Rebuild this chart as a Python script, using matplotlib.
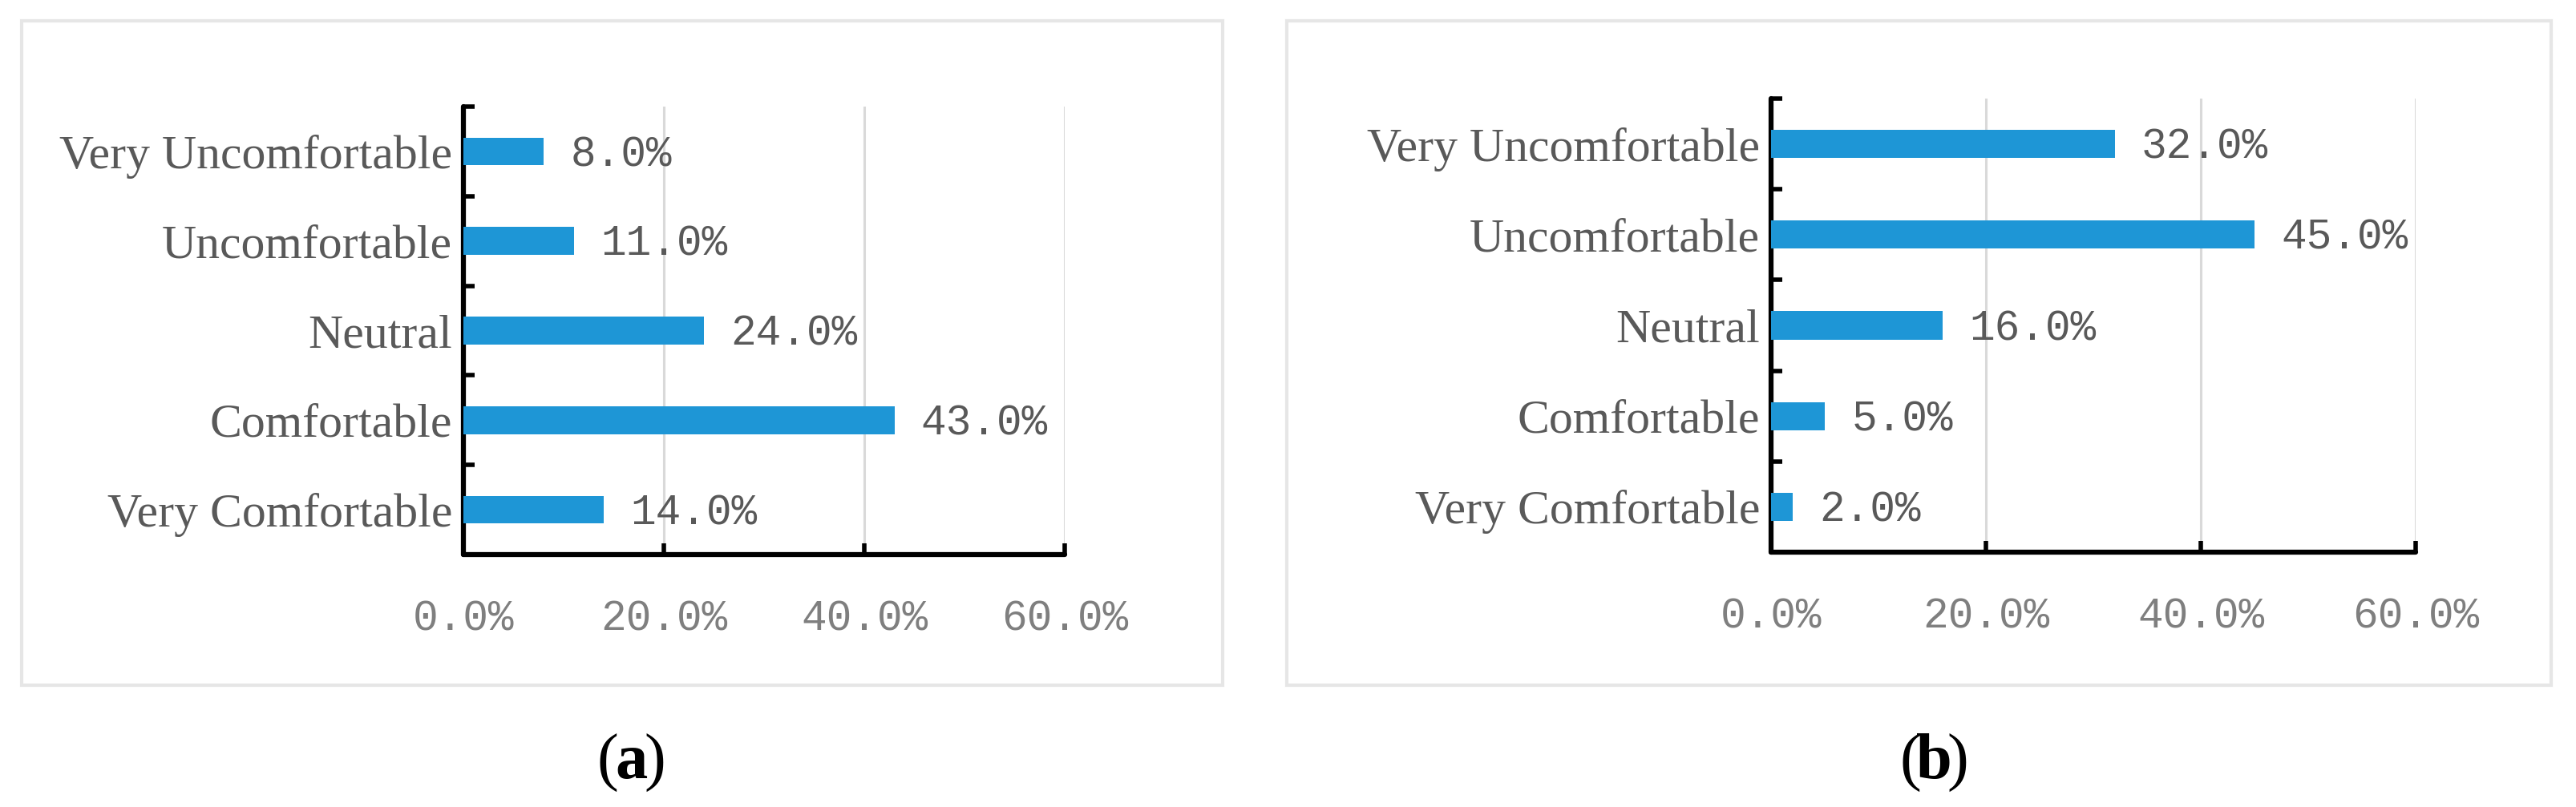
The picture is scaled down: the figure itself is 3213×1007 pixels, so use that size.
import matplotlib
matplotlib.use("Agg")
import matplotlib.pyplot as plt
from matplotlib.patches import Rectangle

categories = ["Very Comfortable", "Comfortable", "Neutral", "Uncomfortable", "Very Uncomfortable"]
values_a = [14.0, 43.0, 24.0, 11.0, 8.0]
values_b = [2.0, 5.0, 16.0, 45.0, 32.0]
xticks = [0, 20, 40, 60]
captions = ["a", "b"]

W, H = 3213, 1007
DPI = 100
fig = plt.figure(figsize=(W / DPI, H / DPI), dpi=DPI)
fig.patch.set_facecolor("white")

BAR = "#1E96D6"
LABEL = "#595959"
TICK = "#7F7F7F"
GRID = "#D9D9D9"

def px_axes(l, t, r, b):
    return fig.add_axes([l / W, 1 - b / H, (r - l) / W, (b - t) / H])

def box(l, t, r, b):
    fig.patches.append(Rectangle((l / W, 1 - b / H), (r - l) / W, (b - t) / H,
                                 transform=fig.transFigure, fill=False,
                                 edgecolor="#E6E6E6", lw=3))

def panel(ax, vals):
    y = range(len(categories))
    ax.barh(list(y), vals, height=0.31, color=BAR, zorder=3)
    ax.set_xlim(0, 60)
    ax.set_ylim(-0.5, len(categories) - 0.5)
    ax.set_xticks(xticks)
    ax.set_xticklabels([f"{t:.1f}%" for t in xticks], family="Liberation Mono",
                       fontsize=38, color=TICK)
    ax.set_yticks(list(y))
    ax.set_yticklabels(categories, family="Liberation Serif", fontsize=43, color=LABEL)
    ax.set_yticks([i + 0.5 for i in range(len(categories))], minor=True)
    ax.tick_params(axis="y", which="major", length=0, pad=10)
    ax.tick_params(axis="y", which="minor", length=10, width=4, direction="in", color="black")
    ax.tick_params(axis="x", which="major", length=10, width=4, direction="in", color="black", pad=40)
    ax.grid(axis="x", color=GRID, lw=2.2, zorder=0)
    for s in ["top", "right"]:
        ax.spines[s].set_visible(False)
    for s in ["left", "bottom"]:
        ax.spines[s].set_linewidth(4.5)
        ax.spines[s].set_color("black")
        ax.spines[s].set_capstyle("round")
    ax.set_facecolor("none")
    for i, v in enumerate(vals):
        ax.annotate(f"{v:.1f}%", xy=(v, i), xytext=(24, -3), textcoords="offset points",
                    va="center", ha="left", family="Liberation Mono", fontsize=38,
                    color=LABEL, annotation_clip=False)

box(27, 26, 1525, 855)
box(1605, 26, 3182, 855)

ax1 = px_axes(578, 133, 1328, 692)
panel(ax1, values_a)
ax2 = px_axes(2209, 123, 3013, 689)
panel(ax2, values_b)

for cx, lab in zip([787, 2412], captions):
    yy = 1 - 952 / H
    fig.text(cx / W, yy, lab, ha="center", va="center", family="Liberation Serif",
             fontsize=58, fontweight="bold", color="black")
    fig.text((cx - 16) / W, yy, "(", ha="right", va="center", family="Liberation Serif",
             fontsize=58, color="black")
    fig.text((cx + 16) / W, yy, ")", ha="left", va="center", family="Liberation Serif",
             fontsize=58, color="black")

fig.savefig("out.png", dpi=DPI, facecolor="white")
